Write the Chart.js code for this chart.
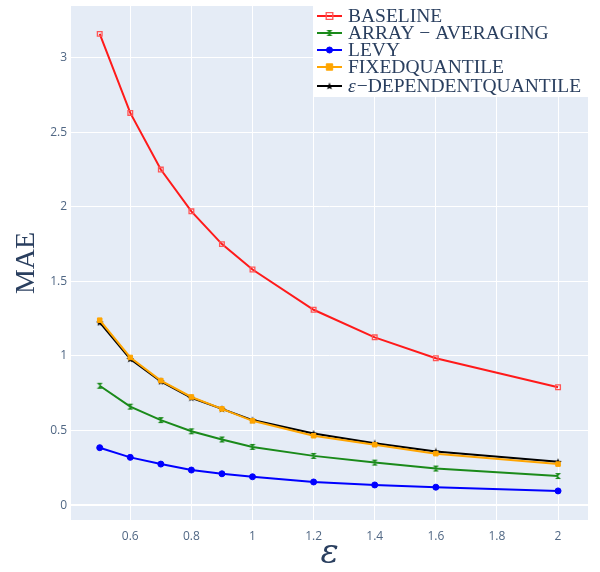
<!DOCTYPE html>
<html>
<head>
<meta charset="utf-8">
<script src="https://cdn.jsdelivr.net/npm/chart.js@4"></script>
<style>
  html, body { margin: 0; padding: 0; background: #fff; }
  #wrap { width: 600px; height: 572px; }
</style>
</head>
<body>
<div id="wrap"><canvas id="maeChart" width="600" height="572"></canvas></div>
<script>
// values
const epsValues = [0.5, 0.6, 0.7, 0.8, 0.9, 1, 1.2, 1.4, 1.6, 2];
const baseline = [3.16, 2.63, 2.25, 1.97, 1.75, 1.58, 1.31, 1.125, 0.985, 0.79];
const arrayAveraging = [0.80, 0.66, 0.57, 0.495, 0.44, 0.39, 0.33, 0.285, 0.245, 0.195];
const levy = [0.385, 0.32, 0.275, 0.235, 0.21, 0.19, 0.155, 0.135, 0.12, 0.095];
const fixedQuantile = [1.24, 0.99, 0.835, 0.725, 0.645, 0.565, 0.465, 0.405, 0.345, 0.275];
const epsQuantile = [1.225, 0.98, 0.83, 0.72, 0.645, 0.57, 0.48, 0.415, 0.36, 0.29];
const seriesLabels = ['BASELINE', 'ARRAY \u2212 AVERAGING', 'LEVY', 'FIXEDQUANTILE', '\u03b5\u2212DEPENDENTQUANTILE'];
const xTicks = [0.6, 0.8, 1, 1.2, 1.4, 1.6, 1.8, 2];
const yTicks = [0, 0.5, 1, 1.5, 2, 2.5, 3];

const textColor = '#2a3f5f';
const tickColor = '#506784';

// little canvas markers
function makeMarker(kind, color) {
  const c = document.createElement('canvas');
  c.width = 8; c.height = 8;
  const g = c.getContext('2d');
  g.fillStyle = color;
  if (kind === 'hourglass') {
    g.beginPath();
    g.moveTo(1, 1); g.lineTo(7, 1); g.lineTo(1, 7); g.lineTo(7, 7); g.closePath();
    g.fill();
  } else if (kind === 'star') {
    g.beginPath();
    for (let i = 0; i < 10; i++) {
      const r = i % 2 === 0 ? 4 : 1.7;
      const a = -Math.PI / 2 + i * Math.PI / 5;
      const px = 4 + r * Math.cos(a), py = 4.3 + r * Math.sin(a);
      if (i === 0) g.moveTo(px, py); else g.lineTo(px, py);
    }
    g.closePath();
    g.fill();
  }
  return c;
}
const hourglass = makeMarker('hourglass', '#1a8a1a');
const star = makeMarker('star', '#000000');

function toPoints(ys) {
  return epsValues.map(function (x, i) { return { x: x, y: ys[i] }; });
}

const seriesColors = ['#ff1a1a', '#1a8a1a', '#0000ff', '#ffa500', '#000000'];

const datasets = [
  { label: seriesLabels[0], data: toPoints(baseline), borderColor: seriesColors[0],
    pointStyle: 'rect', pointRadius: 3.3, pointBorderWidth: 1.3,
    pointBackgroundColor: 'rgba(255,255,255,0)', pointBorderColor: '#ff5555' },
  { label: seriesLabels[1], data: toPoints(arrayAveraging), borderColor: seriesColors[1],
    pointStyle: hourglass, pointRadius: 3.5 },
  { label: seriesLabels[2], data: toPoints(levy), borderColor: seriesColors[2],
    pointStyle: 'circle', pointRadius: 3, pointBorderWidth: 1,
    pointBackgroundColor: seriesColors[2], pointBorderColor: seriesColors[2] },
  { label: seriesLabels[3], data: toPoints(fixedQuantile), borderColor: seriesColors[3],
    pointStyle: 'rect', pointRadius: 3.2, pointBorderWidth: 1,
    pointBackgroundColor: seriesColors[3], pointBorderColor: seriesColors[3] },
  { label: seriesLabels[4], data: toPoints(epsQuantile), borderColor: seriesColors[4],
    pointStyle: star, pointRadius: 3.5 }
];
datasets.forEach(function (d) {
  d.showLine = true;
  d.borderWidth = 2;
  d.tension = 0;
  d.fill = false;
});

// plot background, axis titles and the plotly-like legend box
const decor = {
  id: 'decor',
  beforeDraw: function (chart) {
    const a = chart.chartArea, ctx = chart.ctx;
    ctx.save();
    ctx.fillStyle = '#e5ecf6';
    ctx.fillRect(a.left, a.top, a.right - a.left, a.bottom - a.top);
    ctx.restore();
  },
  afterDraw: function (chart) {
    const a = chart.chartArea, ctx = chart.ctx;
    ctx.save();
    ctx.fillStyle = textColor;
    // y title
    ctx.font = '28px "Liberation Serif", serif';
    ctx.textAlign = 'center';
    ctx.textBaseline = 'middle';
    ctx.translate(27, (a.top + a.bottom) / 2);
    ctx.rotate(-Math.PI / 2);
    ctx.fillText('MAE', 0, 0);
    ctx.restore();

    ctx.save();
    ctx.fillStyle = textColor;
    ctx.font = 'italic 34px "DejaVu Serif", serif';
    ctx.textAlign = 'center';
    ctx.textBaseline = 'middle';
    ctx.fillText('\u03b5', (a.left + a.right) / 2, 554);
    ctx.restore();

    // legend
    ctx.save();
    const lx = 313, ly = 0, lw = a.right - 313, lh = 97;
    ctx.fillStyle = '#ffffff';
    ctx.fillRect(lx, ly, lw, lh);
    const rows = [16, 33, 50, 67, 86];
    chart.data.datasets.forEach(function (ds, i) {
      const y = rows[i];
      ctx.strokeStyle = ds.borderColor;
      ctx.lineWidth = 2;
      ctx.beginPath();
      ctx.moveTo(317, y); ctx.lineTo(342, y);
      ctx.stroke();
      const ps = ds.pointStyle;
      if (typeof ps === 'string') {
        ctx.fillStyle = ds.pointBackgroundColor;
        ctx.strokeStyle = ds.pointBorderColor;
        ctx.lineWidth = ds.pointBorderWidth || 1;
        ctx.beginPath();
        const r = ds.pointRadius;
        if (ps === 'circle') ctx.arc(329.5, y, r, 0, Math.PI * 2);
        else ctx.rect(329.5 - r, y - r, 2 * r, 2 * r);
        ctx.fill();
        ctx.stroke();
      } else {
        ctx.drawImage(ps, 325.5, y - 4);
      }
      ctx.fillStyle = textColor;
      ctx.textAlign = 'left';
      ctx.textBaseline = 'middle';
      let label = ds.label, tx = 348;
      if (label.charAt(0) === '\u03b5') {
        ctx.font = 'italic 19.5px "Liberation Serif", serif';
        ctx.fillText('\u03b5', tx, y + 1);
        tx += ctx.measureText('\u03b5').width + 1;
        label = label.slice(1);
      }
      ctx.font = '19.5px "Liberation Serif", serif';
      ctx.fillText(label, tx, y + 1);
    });
    ctx.restore();
  }
};

function plainNumber(v) { return String(v); }

const ctx = document.getElementById('maeChart').getContext('2d');

new Chart(ctx, {
  type: 'scatter',
  data: { datasets: datasets },
  options: {
    responsive: false,
    animation: false,
    layout: { padding: { top: 3, right: 12, left: 0, bottom: 0 } },
    plugins: {
      legend: { display: false },
      tooltip: { enabled: false }
    },
    scales: {
      x: {
        type: 'linear',
        min: 0.406,
        max: 2.098,
        afterBuildTicks: function (scale) {
          scale.ticks = xTicks.map(function (v) { return { value: v }; });
        },
        afterFit: function (scale) {
          scale.height = 52;
          scale.paddingLeft = 0;
          scale.paddingRight = 0;
        },
        grid: { color: '#ffffff', lineWidth: 1, drawTicks: false },
        border: { display: false },
        ticks: {
          color: tickColor,
          font: { family: '"Open Sans", sans-serif', size: 12 },
          padding: 9,
          maxRotation: 0,
          autoSkip: false,
          callback: plainNumber
        }
      },
      y: {
        type: 'linear',
        min: -0.1,
        max: 3.347,
        afterBuildTicks: function (scale) {
          scale.ticks = yTicks.map(function (v) { return { value: v }; });
        },
        afterFit: function (scale) {
          scale.width = 71;
          scale.paddingTop = 0;
          scale.paddingBottom = 0;
        },
        grid: {
          color: '#ffffff',
          lineWidth: function (c) { return c.tick && c.tick.value === 0 ? 2 : 1; },
          drawTicks: false
        },
        border: { display: false },
        ticks: {
          color: tickColor,
          font: { family: '"Open Sans", sans-serif', size: 12 },
          padding: 4,
          autoSkip: false,
          callback: plainNumber
        }
      }
    }
  },
  plugins: [decor]
});
</script>
</body>
</html>
